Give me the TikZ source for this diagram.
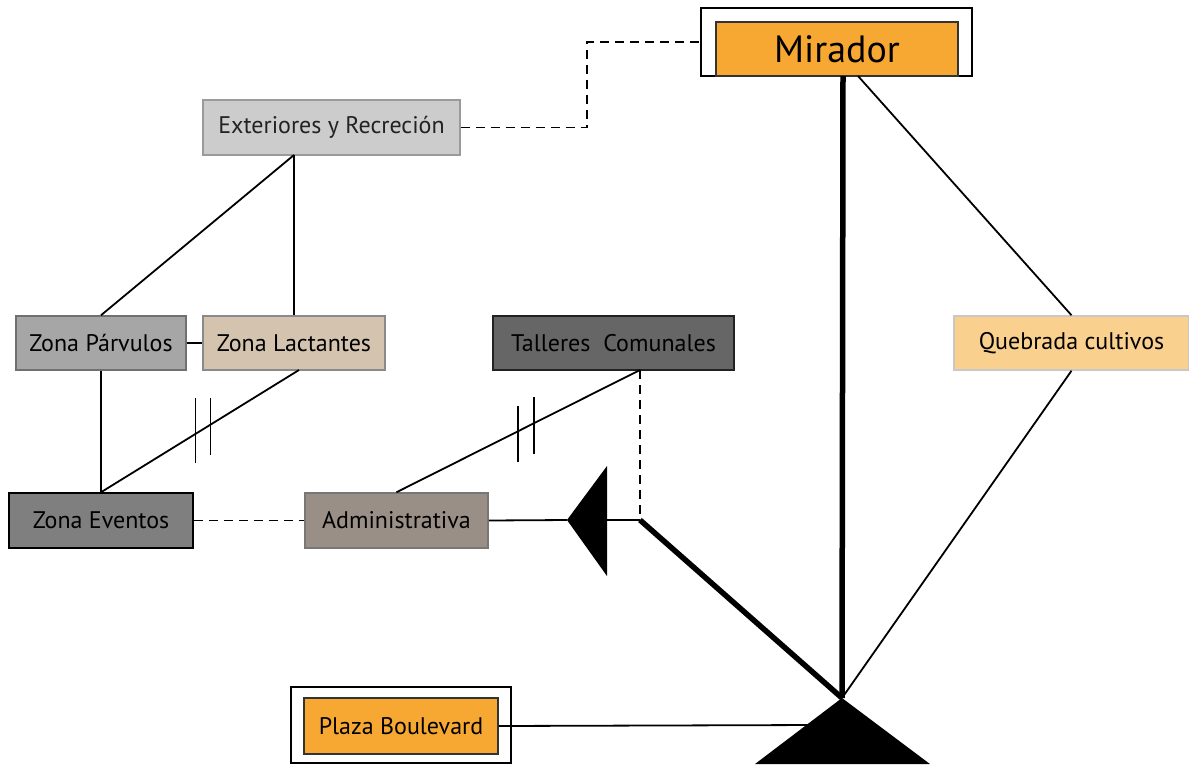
\documentclass[tikz,border=0pt]{standalone}
\usepackage{fontspec}
\setmainfont{PT Sans}
\usetikzlibrary{calc}
\definecolor{orng}{HTML}{F6A832}
\definecolor{extf}{HTML}{CCCCCC}
\definecolor{extd}{HTML}{9A9A9A}
\definecolor{parvf}{HTML}{A6A6A6}
\definecolor{parvd}{HTML}{707070}
\definecolor{lactf}{HTML}{D4C3AE}
\definecolor{lactd}{HTML}{8A8A8A}
\definecolor{tallf}{HTML}{666666}
\definecolor{talld}{HTML}{222222}
\definecolor{quebf}{HTML}{FAD08F}
\definecolor{quebd}{HTML}{C8C8C8}
\definecolor{evtf}{HTML}{7F7F7F}
\definecolor{admf}{HTML}{9A8F86}
\definecolor{admd}{HTML}{777777}
\definecolor{txtd}{HTML}{222222}
\tikzset{
  zone/.style={draw, line width=1.5pt, rectangle, inner sep=0pt, font=\fontsize{24}{28}\selectfont},
  frame/.style={draw=black, line width=2pt, rectangle, inner sep=0pt},
  link/.style={line width=1.8pt},
  dlink/.style={line width=1.8pt, dash pattern=on 9pt off 6pt},
  heavy/.style={line width=5.5pt},
  tick/.style={line width=1.8pt},
}
\begin{document}
\begin{tikzpicture}[x=1pt,y=-1pt]
\useasboundingbox (0,0) rectangle (1189,764);
% outer frames
\node[frame, minimum width=271pt, minimum height=68pt] (mirO) at (836.5,42) {};
\node[frame, minimum width=220pt, minimum height=76pt] (plzO) at (401,725) {};
% boxes
\node[zone, fill=orng, draw=black!80, minimum width=242pt, minimum height=54pt, font=\fontsize{38}{42}\selectfont] (mir) at (837,49) {Mirador};
\node[zone, fill=extf, draw=extd, text=txtd, minimum width=257pt, minimum height=55pt] (ext) at (331.5,127.5) {Exteriores y Recreción};
\node[zone, fill=parvf, draw=parvd, minimum width=170pt, minimum height=54pt] (parv) at (101,343) {Zona Párvulos};
\node[zone, fill=lactf, draw=lactd, minimum width=182pt, minimum height=54pt] (lact) at (294,343) {Zona Lactantes};
\node[zone, fill=tallf, draw=talld, minimum width=241pt, minimum height=54pt] (tall) at (613.5,343) {Talleres\ \ Comunales};
\node[zone, fill=quebf, draw=quebd, minimum width=235pt, minimum height=54pt] (queb) at (1071.5,343) {Quebrada cultivos};
\node[zone, fill=evtf, draw=black, minimum width=184pt, minimum height=55pt] (evt) at (101,520.5) {Zona Eventos};
\node[zone, fill=admf, draw=admd, minimum width=183pt, minimum height=55pt] (adm) at (396.5,520.5) {Administrativa};
\node[zone, fill=orng, draw=black!80, minimum width=194pt, minimum height=56pt] (plz) at (401,726) {Plaza Boulevard};
% coordinates
\coordinate (bend1) at (587,127.5);
\coordinate (bend2) at (587,42);
\coordinate (extS) at (294,155);
\coordinate (lactS) at (299,370);
\coordinate (tallS) at (640,370);
\coordinate (junc) at (640,520);
\coordinate (tipL) at (567,520);
\coordinate (baseL) at (607,520);
\coordinate (apex) at (842,698);
\coordinate (mirB) at (843,76);
\coordinate (mirB2) at (858,76);
\coordinate (plzE) at (815,725);
% connectors
\draw[dlink] (ext.east) -- (bend1) -- (bend2) -- (mirO.west);
\draw[link] (extS) -- (parv.north);
\draw[link] (extS) -- (lact.north);
\draw[link] (parv.east) -- (lact.west);
\draw[link] (parv.south) -- (evt.north);
\draw[link] (lactS) -- coordinate[pos=0.447] (ta2) coordinate[pos=0.523] (ta1) (evt.north);
\draw[tick] ($(ta1)+(0,-36)$) -- ($(ta1)+(0,29)$);
\draw[tick] ($(ta2)+(0,-27)$) -- ($(ta2)+(0,30)$);
\draw[link] (tallS) -- coordinate[pos=0.436] (tb2) coordinate[pos=0.502] (tb1) (adm.north);
\draw[tick] ($(tb1)+(0,-25)$) -- ($(tb1)+(0,31)$);
\draw[tick] ($(tb2)+(0,-26)$) -- ($(tb2)+(0,31)$);
\draw[dlink] (tallS) -- (junc);
\draw[dlink] (evt.east) -- (adm.west);
\draw[link] (adm.east) -- (tipL);
\draw[link] (baseL) -- (junc);
\fill (tipL) -- (607,466) -- (607,576) -- cycle;
\draw[heavy] (junc) -- (apex);
\draw[heavy] (mirB) -- (apex);
\draw[link] (mirB2) -- (queb.north);
\draw[link] (queb.south) -- (apex);
\draw[link] (plz.east) -- (plzE);
\fill (apex) -- (755,764) -- (930,764) -- cycle;
\end{tikzpicture}
\end{document}
